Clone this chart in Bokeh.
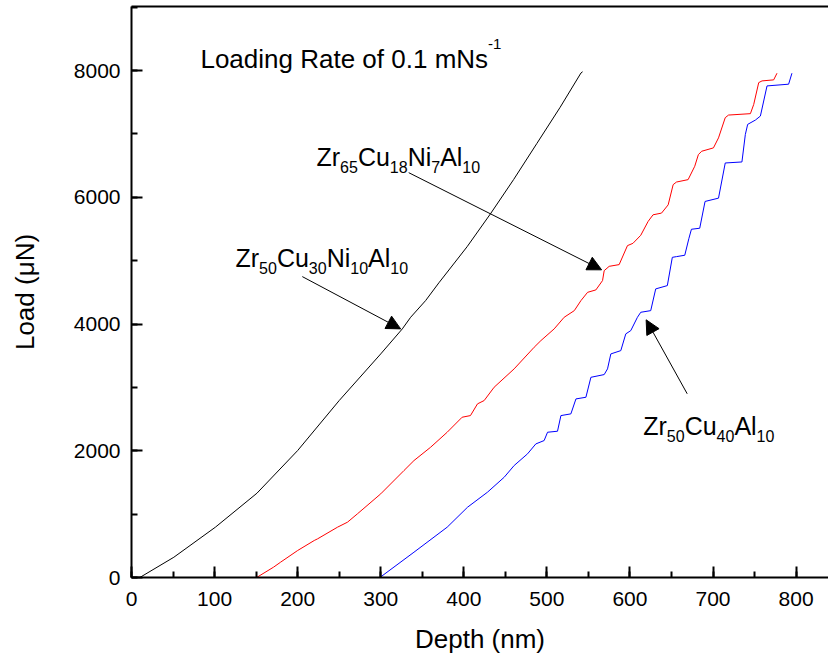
from bokeh.plotting import figure
from bokeh.models import (Range1d, SingleIntervalTicker, LinearAxis, FixedTicker,
                          Label, Arrow, NormalHead)
from bokeh.embed import file_html
from bokeh.resources import INLINE

# ---------------- data ----------------
black_depth = [10, 51, 101, 151, 200, 250, 300, 326, 336, 354, 370, 404, 432, 460, 488,
               516, 541, 543]
black_load = [0, 320, 794, 1330, 2003, 2792, 3528, 3923, 4106, 4369, 4650, 5220, 5737,
              6280, 6850, 7420, 7960, 7980]

red_depth = [150.6, 171, 179.5, 200, 220, 224, 248, 260, 272, 300, 328, 340, 360, 380,
             398, 408, 416.5, 424.5, 436.5, 460.6, 484.7, 492.8, 508.8, 520.8, 533, 541,
             549, 559, 567, 569, 575, 587, 597, 603.6, 613, 621.8, 627.8, 638, 646, 652,
             656, 670, 678, 682.4, 686.4, 700.5, 706.6, 714.7, 718.7, 745, 749, 755, 759,
             773, 777]
red_load = [0, 163, 242, 426, 584, 610, 794, 873, 1005, 1320, 1688, 1845, 2055, 2292,
            2529, 2555, 2740, 2792, 3002, 3292, 3633, 3738, 3923, 4106, 4211, 4369,
            4500, 4538, 4685, 4842, 4910, 4937, 5237, 5273, 5400, 5617, 5723, 5750, 5880, 6199,
            6240, 6278, 6489, 6674, 6726, 6779, 6937, 7256, 7297, 7319, 7465, 7809, 7836,
            7852, 7957]

blue_depth = [299, 340, 380, 404.5, 428.5, 448.6, 460.6, 476.7, 486.7, 496.7, 500.8,
              512.8, 516.9, 528.9, 535, 547, 553, 569, 573, 577, 589, 595, 601, 609, 613,
              625, 631, 645, 651, 656, 666, 671, 674, 684, 690.4, 706.6, 714.7, 734.8,
              738.9, 741.7, 751, 757, 765, 791, 795]
blue_load = [0, 399, 794, 1109, 1346, 1582, 1767, 1951, 2108, 2161, 2292,
             2308, 2555, 2582, 2818, 2844, 3159, 3202, 3292, 3528, 3580, 3844, 3896, 4106, 4185,
             4211, 4554, 4606, 5052, 5063, 5085, 5352, 5495, 5511, 5934, 5986, 6541, 6557,
             6990, 7150, 7218, 7281, 7757, 7784, 7957]

x_ticks_interval = 100
y_ticks_interval = 2000

# annotation texts: list of (chunk, kind) with kind n=normal, s=subscript, p=superscript
title_parts = [("Loading Rate of 0.1 mNs", "n"), ("-1", "p")]
label_zr65 = [("Zr", "n"), ("65", "s"), ("Cu", "n"), ("18", "s"), ("Ni", "n"), ("7", "s"),
              ("Al", "n"), ("10", "s")]
label_zr50ni = [("Zr", "n"), ("50", "s"), ("Cu", "n"), ("30", "s"), ("Ni", "n"), ("10", "s"),
                ("Al", "n"), ("10", "s")]
label_zr50cu40 = [("Zr", "n"), ("50", "s"), ("Cu", "n"), ("40", "s"), ("Al", "n"), ("10", "s")]

# anchor (depth, load) of the text baselines and of arrows (tail -> tip)
title_at = (83, 8189)
zr65_at = (222.7, 6643)
zr50ni_at = (125.2, 5034)
zr50cu40_at = (616, 2398)
arrow_zr65 = (333.7, 6388, 565.9, 4855)
arrow_zr50ni = (205.6, 4748, 324, 3923)
arrow_zr50cu40 = (668.9, 2899, 619.5, 4066)

# ---------------- figure ----------------
FONT = "Liberation Sans"
p = figure(frame_width=697, frame_height=571, min_border_left=131, min_border_top=6,
           min_border_bottom=81, min_border_right=0,
           x_range=Range1d(0, 839), y_range=Range1d(0, 9010),
           output_backend="svg", toolbar_location=None,
           x_axis_type=None, y_axis_type=None)
p.outline_line_color = None
p.background_fill_color = "white"
p.border_fill_color = "white"

xax = LinearAxis(ticker=SingleIntervalTicker(interval=x_ticks_interval, num_minor_ticks=2),
                 axis_label="Depth (nm)")
yax = LinearAxis(ticker=SingleIntervalTicker(interval=y_ticks_interval, num_minor_ticks=2),
                 axis_label="Load (μN)")
for ax in (xax, yax):
    ax.axis_line_width = 2
    ax.major_tick_line_width = 2
    ax.minor_tick_line_width = 2
    ax.major_tick_in = 11
    ax.major_tick_out = 0
    ax.minor_tick_in = 6
    ax.minor_tick_out = 0
    ax.major_label_text_font = FONT
    ax.major_label_text_font_size = "21px"
    ax.major_label_text_color = "black"
    ax.axis_label_text_font = FONT
    ax.axis_label_text_font_size = "26px"
    ax.axis_label_text_font_style = "normal"
    ax.axis_label_text_color = "black"
xax.major_label_standoff = 14
yax.major_label_standoff = 11
xax.axis_label_standoff = 15
yax.axis_label_standoff = 31
p.add_layout(xax, "below")
p.add_layout(yax, "left")

top = LinearAxis(ticker=FixedTicker(ticks=[]), axis_line_width=2,
                 major_tick_in=0, major_tick_out=0, minor_tick_in=0, minor_tick_out=0,
                 major_label_text_font_size="0px", major_label_standoff=0)
p.add_layout(top, "above")

p.line(black_depth, black_load, line_color="black", line_width=1)
p.line(red_depth, red_load, line_color="#ff0000", line_width=1)
p.line(blue_depth, blue_load, line_color="#0000ff", line_width=1)

# Arial / Liberation Sans advance widths (per 1000 em)
W = {"Z": 611, "r": 333, "C": 722, "u": 556, "N": 722, "i": 222, "A": 667, "l": 222,
     "-": 333, "L": 556, "o": 556, "a": 556, "d": 556, "n": 556, "g": 556, " ": 278,
     "R": 722, "t": 278, "e": 556, "f": 278, ".": 278, "m": 833, "s": 500}


def text_width(s, size):
    return sum(W.get(c, 556) for c in s) * size / 1000.0


def formula(parts, at, big, small, sub_drop=10, sup_rise=15):
    x_off = 0.0
    for chunk, kind in parts:
        size = big if kind == "n" else small
        dy = 0 if kind == "n" else (-sub_drop if kind == "s" else sup_rise)
        p.add_layout(Label(x=at[0], y=at[1], x_offset=x_off, y_offset=dy, text=chunk,
                           text_font=FONT, text_font_size=f"{size}px",
                           text_baseline="alphabetic", text_align="left",
                           text_color="black"))
        x_off += text_width(chunk, size)


formula(title_parts, title_at, 26, 15)
formula(label_zr65, zr65_at, 25, 16)
formula(label_zr50ni, zr50ni_at, 25, 16)
formula(label_zr50cu40, zr50cu40_at, 25, 16)

for a in (arrow_zr65, arrow_zr50ni, arrow_zr50cu40):
    p.add_layout(Arrow(x_start=a[0], y_start=a[1], x_end=a[2], y_end=a[3],
                       line_color="black", line_width=1,
                       end=NormalHead(size=14, fill_color="black", line_color="black")))

open("out.html", "w").write(file_html(p, INLINE))
